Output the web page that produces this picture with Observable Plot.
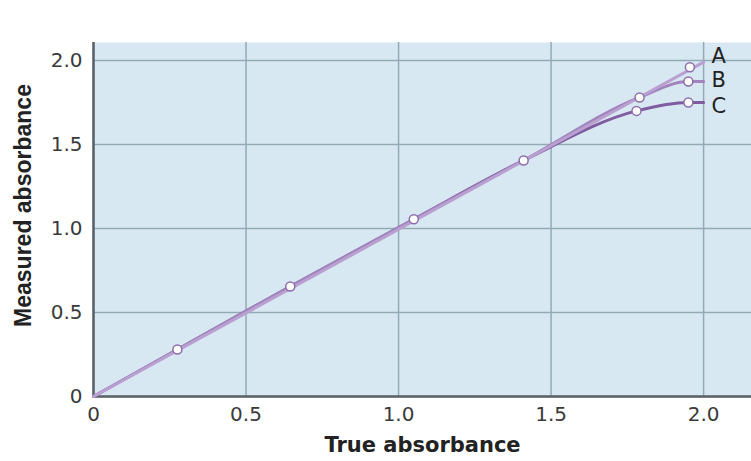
<!DOCTYPE html>
<html>
<head>
<meta charset="utf-8">
<script src="https://cdn.jsdelivr.net/npm/d3@7"></script>
<script src="https://cdn.jsdelivr.net/npm/@observablehq/plot@0.6"></script>
<style>
  html, body { margin: 0; padding: 0; background: #fff; }
  #chart svg { display: block; }
</style>
</head>
<body>
<div id="chart"></div>
<script>
// Curve A (linear), B and C (deviating at high absorbance)
const trueA = [0, 2.0];
const measA = [0, 1.99];
const trueB = [0, 0.275, 0.645, 1.05, 1.41, 1.79, 1.95, 2.0];
const measB = [0, 0.28, 0.655, 1.055, 1.405, 1.78, 1.875, 1.875];
const trueC = [0, 0.275, 0.645, 1.05, 1.41, 1.78, 1.95, 2.0];
const measC = [0, 0.28, 0.655, 1.055, 1.405, 1.70, 1.75, 1.75];
// Measured points (circles)
const pointTrue = [0.275, 0.645, 1.05, 1.41, 1.79, 1.78, 1.955, 1.95, 1.95];
const pointMeas = [0.28, 0.655, 1.055, 1.405, 1.78, 1.70, 1.96, 1.875, 1.75];
// Curve labels
const curveNames = ["A", "B", "C"];
const labelY = [2.025, 1.88, 1.725];
const ticks = [0, 0.5, 1.0, 1.5, 2.0];
const xTitle = "True absorbance";
const yTitle = "Measured absorbance";

const zip = (xs, ys) => xs.map((x, i) => ({x, y: ys[i]}));
const fmt = d => d === 0 ? "0" : d.toFixed(1);
const wide = "'DejaVu Sans', Verdana, sans-serif";

const chart = Plot.plot({
  width: 751,
  height: 461,
  marginLeft: 93,
  marginRight: 0,
  marginTop: 42,
  marginBottom: 65,
  style: {fontFamily: wide, fontSize: "20px", color: "#3a3a3a", background: "#fff"},
  x: {domain: [0, 2.157], label: null},
  y: {domain: [0, 2.107], label: null},
  marks: [
    Plot.frame({fill: "#d8e8f2", stroke: null}),
    Plot.gridX(ticks, {stroke: "#93aab6", strokeOpacity: 1, strokeWidth: 1.5}),
    Plot.gridY(ticks, {stroke: "#93aab6", strokeOpacity: 1, strokeWidth: 1.5}),
    Plot.ruleX([0], {stroke: "#5a6066", strokeWidth: 2.5}),
    Plot.ruleY([0], {stroke: "#5a6066", strokeWidth: 2.5}),
    Plot.line(zip(trueC, measC), {x: "x", y: "y", stroke: "#7e5c9f", strokeWidth: 3, curve: "monotone-x"}),
    Plot.line(zip(trueB, measB), {x: "x", y: "y", stroke: "#a184bd", strokeWidth: 3, curve: "monotone-x"}),
    Plot.line(zip(trueA, measA), {x: "x", y: "y", stroke: "#b9a0d0", strokeWidth: 3}),
    Plot.dot(zip(pointTrue, pointMeas), {x: "x", y: "y", r: 4.5, fill: "#fff", stroke: "#8d6dab", strokeWidth: 1.5}),
    Plot.text(curveNames, {x: () => 2.0, y: (d, i) => labelY[i], text: d => d, textAnchor: "start", dx: 8, fontSize: 21, fill: "#222"}),
    Plot.axisX({ticks: ticks, tickFormat: fmt, tickSize: 0, tickPadding: 10, fontSize: 20, label: null}),
    Plot.axisY({ticks: ticks, tickFormat: fmt, tickSize: 0, tickPadding: 11, fontSize: 20, label: null}),
    Plot.text([xTitle], {frameAnchor: "bottom", lineAnchor: "middle", dy: 49, text: d => d, fontSize: 21, fontWeight: "bold", fill: "#222"}),
    Plot.text([yTitle], {frameAnchor: "left", textAnchor: "middle", lineAnchor: "middle", dx: -70, dy: -14, rotate: -90, text: d => d, fontFamily: "'Liberation Sans', Arial, sans-serif", fontSize: 23, fontWeight: "bold", fill: "#222"})
  ]
});
document.getElementById("chart").appendChild(chart);
</script>
</body>
</html>
